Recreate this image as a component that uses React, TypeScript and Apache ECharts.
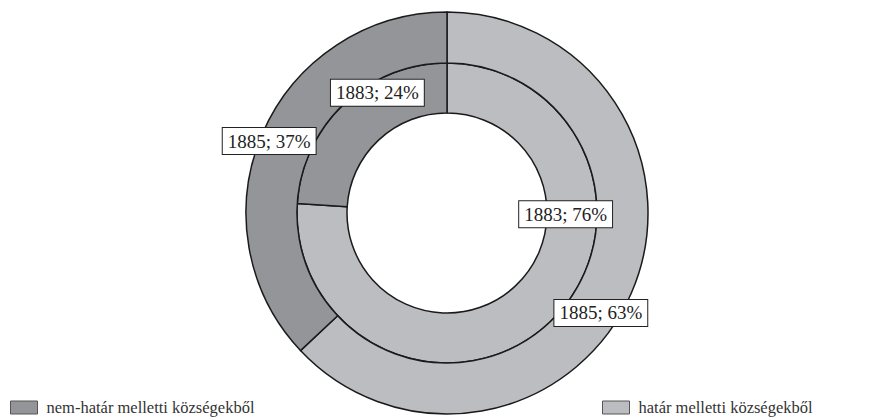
import React, { useEffect, useRef } from "react";
import * as echarts from "echarts";

const categories = ["határ melletti községekből", "nem-határ melletti községekből"];
const years = ["1883", "1885"];
const values1883 = [76, 24];
const values1885 = [63, 37];
const colors = ["#bcbdc0", "#939598"];

export default function App() {
  const ref = useRef<HTMLDivElement>(null);
  useEffect(() => {
    if (!ref.current) return;
    const chart = echarts.init(ref.current, null, { renderer: "svg" });
    const labelBase = {
      show: true,
      position: "inside",
      formatter: "{a}; {d}%",
      fontFamily: "Liberation Serif",
      fontSize: 19,
      color: "#222",
      backgroundColor: "#fff",
      borderColor: "#222",
      borderWidth: 1,
      padding: [4, 5, 3, 5],
    };
    const mk = (vals: number[], offsets: number[][]) =>
      vals.map((v, i) => ({
        name: categories[i],
        value: v,
        itemStyle: { color: colors[i] },
        label: { ...labelBase, offset: offsets[i] },
      }));
    const legendText = {
      fontFamily: "Liberation Serif",
      fontSize: 16.5,
      color: "#333",
      padding: [0, 0, 0, 4],
    };
    chart.setOption({
      animation: false,
      legend: [
        {
          left: 5,
          top: 394,
          data: [categories[1]],
          icon: "rect",
          itemWidth: 27,
          itemHeight: 13,
          textStyle: legendText,
          itemStyle: { borderColor: "#555", borderWidth: 1 },
          selectedMode: false,
        },
        {
          left: 597,
          top: 394,
          data: [categories[0]],
          icon: "rect",
          itemWidth: 27,
          itemHeight: 13,
          textStyle: legendText,
          itemStyle: { borderColor: "#555", borderWidth: 1 },
          selectedMode: false,
        },
      ],
      series: [
        {
          name: years[0],
          type: "pie",
          center: [447, 213],
          radius: [100, 150],
          startAngle: 90,
          clockwise: true,
          avoidLabelOverlap: false,
          labelLine: { show: false },
          emphasis: { disabled: true },
          itemStyle: { borderColor: "#1a1a1a", borderWidth: 1.5 },
          data: mk(values1883, [
            [31, -92],
            [18, -27],
          ]),
        },
        {
          name: years[1],
          type: "pie",
          center: [447, 213],
          radius: [150, 201],
          startAngle: 90,
          clockwise: true,
          avoidLabelOverlap: false,
          labelLine: { show: false },
          emphasis: { disabled: true },
          itemStyle: { borderColor: "#1a1a1a", borderWidth: 1.5 },
          data: mk(values1885, [
            [-10, 29],
            [-14, -1],
          ]),
        },
      ],
    });
    return () => chart.dispose();
  }, []);
  return (
    <div
      ref={ref}
      style={{ position: "fixed", left: 0, top: 0, width: 893, height: 419, background: "#fff" }}
    />
  );
}
